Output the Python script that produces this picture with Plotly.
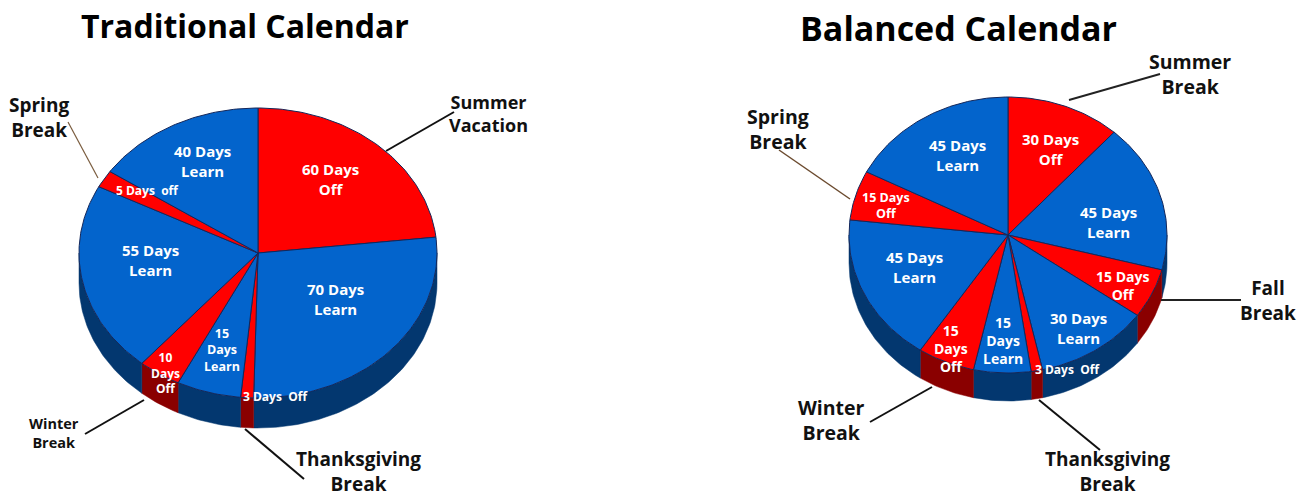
import numpy as np
import plotly.graph_objects as go

# ---- data ----
trad_days = [60, 70, 3, 15, 10, 55, 5, 40]
trad_kind = ["Off", "Learn", "Off", "Learn", "Off", "Learn", "Off", "Learn"]
trad_text = ["60 Days<br>Off", "70 Days<br>Learn", "3 Days  Off", "15<br>Days<br>Learn",
             "10<br>Days<br>Off", "55 Days<br>Learn", "5 Days  off", "40 Days<br>Learn"]
bal_days = [30, 45, 15, 30, 3, 15, 15, 45, 15, 45]
bal_kind = ["Off", "Learn", "Off", "Learn", "Off", "Learn", "Off", "Learn", "Off", "Learn"]
bal_text = ["30 Days<br>Off", "45 Days<br>Learn", "15 Days<br>Off", "30 Days<br>Learn", "3 Days  Off",
            "15<br>Days<br>Learn", "15<br>Days<br>Off", "45 Days<br>Learn", "15 Days<br>Off", "45 Days<br>Learn"]

# ---- layout helpers (pixel space of the page) ----
TOP = {"Off": "#FF0000", "Learn": "#0364CC"}
WALL = {"Off": "#8A0000", "Learn": "#03376F"}
EDGE = "#14275A"
FONT = "Open Sans"

fig = go.Figure()


def pie(days, kinds, cx, cy, rx, ry, depth):
    edges = np.cumsum([0] + days) / sum(days) * 2 * np.pi

    def arc(a, b, dy=0):
        t = np.linspace(a, b, max(int((b - a) * 60), 2))
        return list(cx + rx * np.sin(t)), list(cy + dy - ry * np.cos(t))

    for a, b, k in zip(edges[:-1], edges[1:], kinds):
        a2, b2 = max(a, np.pi / 2), min(b, 3 * np.pi / 2)
        if b2 > a2:
            x1, y1 = arc(a2, b2)
            x2, y2 = arc(a2, b2, depth)
            fig.add_trace(go.Scatter(x=x1 + x2[::-1] + x1[:1], y=y1 + y2[::-1] + y1[:1],
                                     mode="lines", fill="toself", fillcolor=WALL[k],
                                     line=dict(color=WALL[k], width=0.5), hoverinfo="skip"))
    for a, b, k in zip(edges[:-1], edges[1:], kinds):
        x, y = arc(a, b)
        fig.add_trace(go.Scatter(x=[cx] + x + [cx], y=[cy] + y + [cy],
                                 mode="lines", fill="toself", fillcolor=TOP[k],
                                 line=dict(color=EDGE, width=1), hoverinfo="skip"))


pie(trad_days, trad_kind, 258, 253, 179, 145, 30)
pie(bal_days, bal_kind, 1008, 235, 159, 138, 28)


def label(text, x, y, size, color="#111111"):
    fig.add_annotation(x=x, y=y, text=text, showarrow=False, xref="x", yref="y",
                       align="center", xanchor="center", yanchor="middle",
                       font=dict(family=FONT, size=size, color=color, weight=700))


def leader(x0, y0, x1, y1, color="#111111", width=2):
    fig.add_shape(type="line", x0=x0, y0=y0, x1=x1, y1=y1, xref="x", yref="y",
                  line=dict(color=color, width=width))


# titles
label("Traditional Calendar", 245, 25, 32, "#000000")
label("Balanced Calendar", 958, 28, 34, "#000000")

# slice labels
for t, x, y, s in zip(trad_text,
                      [330, 335, 275, 222, 165, 150, 147, 202],
                      [179, 299, 396, 350, 373, 260, 190, 161],
                      [15, 15, 12, 12.5, 12, 15, 12, 15]):
    label(t, x, y, s, "white")
for t, x, y, s in zip(bal_text,
                      [1050, 1108, 1122, 1078, 1067, 1003, 951, 914, 886, 957],
                      [149, 222, 285, 328, 369, 340, 348, 267, 205, 155],
                      [15, 15, 14, 15, 12, 14, 14, 15, 12.5, 15]):
    label(t, x, y, s, "white")

# callouts
label("Spring<br>Break", 39, 117, 19)
label("Summer<br>Vacation", 488, 113, 18)
label("Winter<br>Break", 54, 433, 14.5)
label("Thanksgiving<br>Break", 358, 471, 19)
label("Summer<br>Break", 1190, 74, 19.5)
label("Spring<br>Break", 778, 129, 19.5)
label("Fall<br>Break", 1268, 300, 19)
label("Winter<br>Break", 831, 420, 19.5)
label("Thanksgiving<br>Break", 1107, 471, 19)

leader(68, 122, 98, 178, "#7A5C3E", 1.2)
leader(454, 112, 386, 151)
leader(85, 434, 144, 400)
leader(245, 429, 304, 479)
leader(1069, 100, 1160, 74, "#222222")
leader(779, 150, 850, 199, "#6B4A2E", 1.5)
leader(1161, 300, 1241, 300, "#222222")
leader(870, 422, 932, 387)
leader(1039, 400, 1100, 450)

fig.update_layout(width=1307, height=497, margin=dict(l=0, r=0, t=0, b=0),
                  paper_bgcolor="white", plot_bgcolor="white", showlegend=False)
fig.update_xaxes(range=[0, 1307], visible=False, fixedrange=True)
fig.update_yaxes(range=[497, 0], visible=False, fixedrange=True)

fig.write_html("out.html", config={"displayModeBar": False},
               post_script="document.body.style.margin='0';document.body.style.overflow='hidden';")
